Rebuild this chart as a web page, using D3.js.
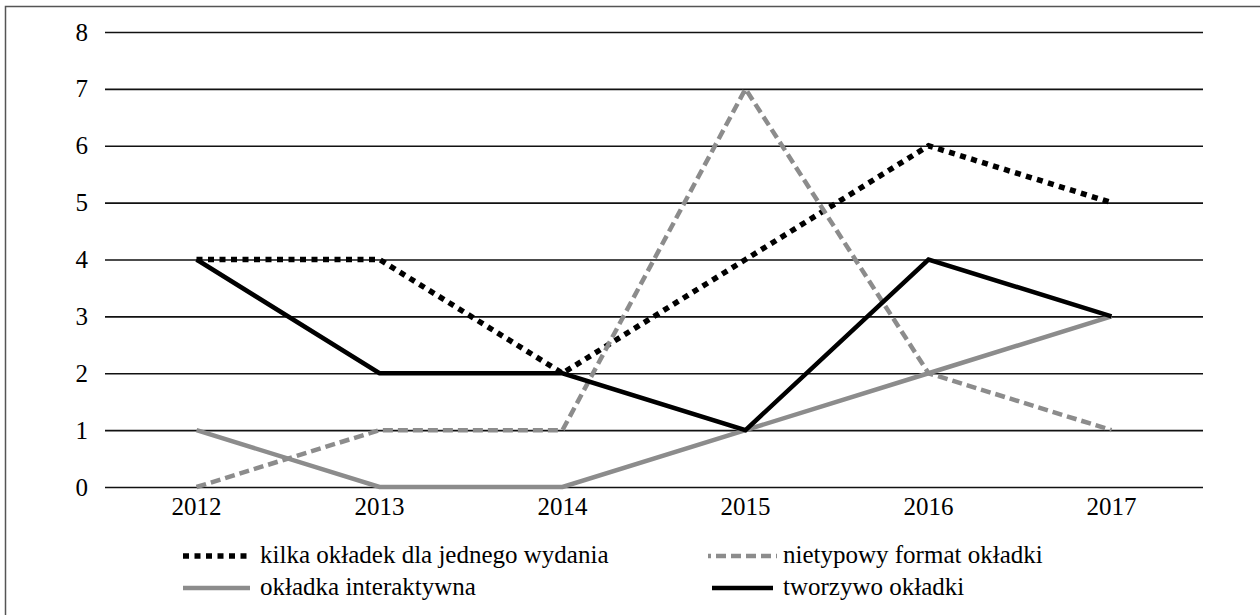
<!DOCTYPE html>
<html>
<head>
<meta charset="utf-8">
<script src="https://cdn.jsdelivr.net/npm/d3@7"></script>
<style>
  @font-face { font-family: "ChartSerifA"; src: local("Liberation Serif"), local("LiberationSerif"), local("LiberationSerif-Regular"), local("Liberation Serif Regular"); }
  html, body { margin: 0; padding: 0; background: #fff; }
  svg { display: block; }
</style>
</head>
<body>
<svg id="chart" width="1260" height="615"></svg>
<script>
// Years on the category axis
const years = ["2012", "2013", "2014", "2015", "2016", "2017"];

// Series values per year
const kilkaOkladek = [4, 4, 2, 4, 6, 5];
const nietypowyFormat = [0, 1, 1, 7, 2, 1];
const okladkaInteraktywna = [1, 0, 0, 1, 2, 3];
const tworzywoOkladki = [4, 2, 2, 1, 4, 3];

// Value axis ticks
const yTicks = [0, 1, 2, 3, 4, 5, 6, 7, 8];

const seriesNames = [
  "kilka okładek dla jednego wydania",
  "nietypowy format okładki",
  "okładka interaktywna",
  "tworzywo okładki"
];

const series = [
  { name: seriesNames[0], values: kilkaOkladek, color: "#000", width: 5.5, dash: "6,5.5" },
  { name: seriesNames[1], values: nietypowyFormat, color: "#8c8c8c", width: 4.5, dash: "10,5" },
  { name: seriesNames[2], values: okladkaInteraktywna, color: "#8c8c8c", width: 4.5, dash: null },
  { name: seriesNames[3], values: tworzywoOkladki, color: "#000", width: 4.5, dash: null }
];

const labelFont = "Tinos, ChartSerifA, 'DejaVu Serif'";
const labelSize = "25px";
const styleText = sel => sel
  .style("font-family", labelFont)
  .style("font-size", labelSize)
  .attr("fill", "#000");

const svg = d3.select("#chart");

// Chart frame: only its top and left edges fall inside the canvas
svg.append("rect")
  .attr("x", 5.5).attr("y", 6.5)
  .attr("width", 1300).attr("height", 700)
  .attr("fill", "none").attr("stroke", "#555").attr("stroke-width", 1.5);

const plot = { left: 105, right: 1203, top: 32, bottom: 487 };

const x = d3.scaleBand().domain(years).range([plot.left, plot.right]);
const y = d3.scaleLinear().domain([0, 8]).range([plot.bottom, plot.top]);

// Horizontal gridlines with value labels
const yAxis = d3.axisLeft(y).tickValues(yTicks)
  .tickSize(-(plot.right - plot.left)).tickPadding(17).tickFormat(d3.format("d"));
const yg = svg.append("g").attr("transform", `translate(${plot.left},0)`).call(yAxis);
yg.select(".domain").remove();
yg.selectAll(".tick line").attr("stroke", "#111").attr("stroke-width", 1.6);
yg.selectAll(".tick text").call(styleText);

// Category labels
const xAxis = d3.axisBottom(x).tickSize(0).tickPadding(10);
const xg = svg.append("g").attr("transform", `translate(0,${plot.bottom})`).call(xAxis);
xg.select(".domain").remove();
xg.selectAll(".tick text").call(styleText);

// Series lines
const line = d3.line()
  .x((d, i) => x(years[i]) + x.bandwidth() / 2)
  .y(d => y(d));

series.forEach(s => {
  svg.append("path")
    .datum(s.values)
    .attr("d", line)
    .attr("fill", "none")
    .attr("stroke", s.color)
    .attr("stroke-width", s.width)
    .attr("stroke-dasharray", s.dash)
    .attr("stroke-linejoin", "miter");
});

// Legend (two columns, two rows)
const legendPos = [
  { x: 183, y: 556, len: 67, text: 260 },
  { x: 708, y: 556, len: 69, text: 783 },
  { x: 183, y: 588, len: 67, text: 260 },
  { x: 712, y: 588, len: 61, text: 783 }
];
series.forEach((s, i) => {
  const p = legendPos[i];
  svg.append("line")
    .attr("x1", p.x).attr("x2", p.x + p.len).attr("y1", p.y).attr("y2", p.y)
    .attr("stroke", s.color)
    .attr("stroke-width", s.width)
    .attr("stroke-dasharray", s.dash)
    .attr("stroke-dashoffset", i === 1 ? 7 : 0);
  svg.append("text")
    .attr("x", p.text).attr("y", p.y + 7)
    .call(styleText)
    .text(s.name);
});
</script>
</body>
</html>
